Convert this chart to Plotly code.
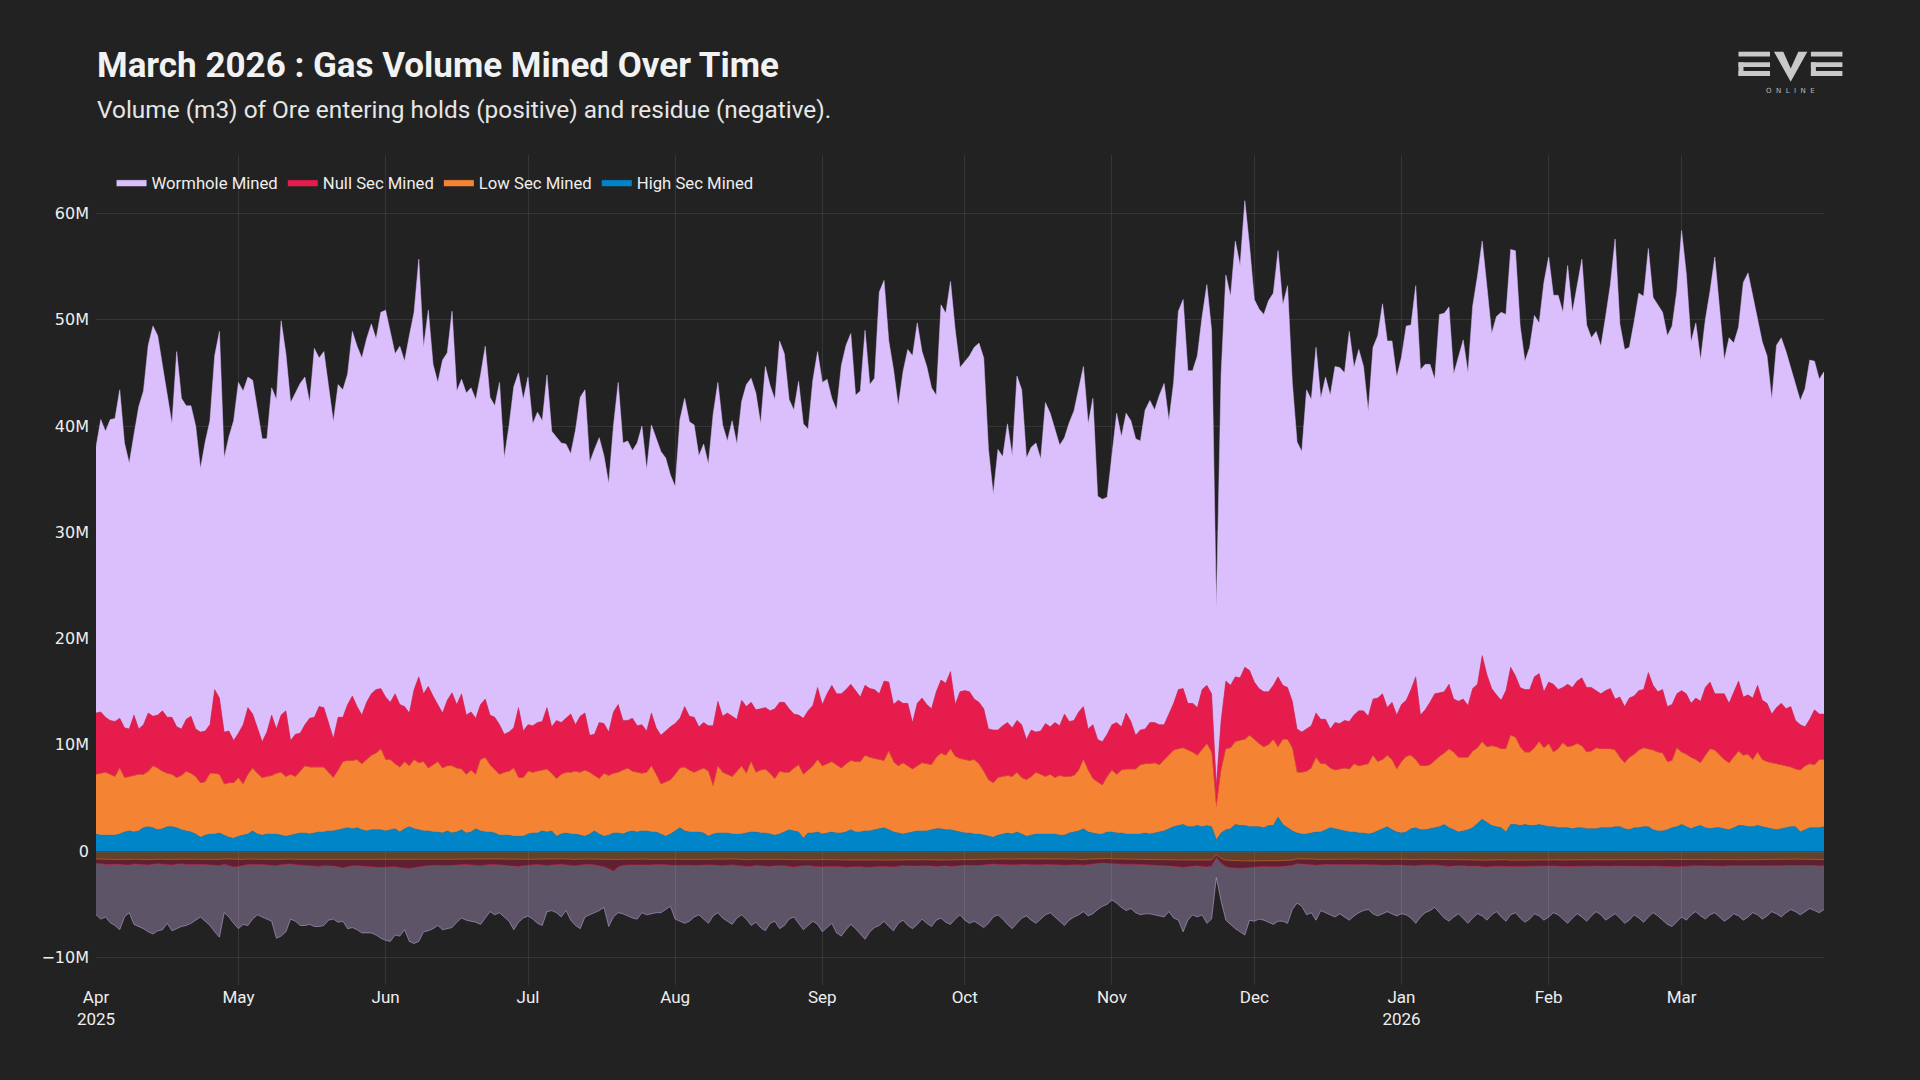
import plotly.graph_objects as go
import pandas as pd

# ---------------- data (millions of m3) ----------------
# top of the whole positive stack (= wormhole top)
top_total = [
    38.0, 40.6, 39.5, 40.6, 40.7, 43.4, 38.4, 36.5, 39.2, 41.8,
    43.3, 47.6, 49.4, 48.5, 45.7, 42.9, 40.2, 47.0, 42.6, 41.9,
    41.9, 40.0, 36.0, 38.5, 40.5, 46.6, 48.9, 37.0, 39.0, 40.5,
    44.1, 43.3, 44.6, 44.3, 41.5, 38.8, 38.8, 43.6, 42.5, 49.9,
    46.8, 42.2, 43.1, 44.0, 44.6, 42.2, 47.3, 46.4, 47.0, 43.5,
    40.4, 43.9, 43.4, 44.9, 48.9, 47.5, 46.4, 48.2, 49.6, 48.2,
    50.7, 50.9, 49.0, 46.8, 47.5, 46.1, 48.5, 50.7, 55.7, 47.4,
    50.9, 45.8, 44.1, 46.2, 46.9, 50.8, 43.3, 44.4, 43.1, 43.6,
    42.5, 44.8, 47.5, 42.7, 41.9, 44.1, 37.0, 40.0, 43.7, 45.0,
    42.5, 44.6, 40.2, 41.3, 40.5, 44.8, 39.5, 38.9, 38.4, 38.3,
    37.4, 39.6, 42.7, 43.4, 36.6, 37.8, 38.9, 37.2, 34.6, 40.0,
    44.1, 38.4, 38.6, 37.7, 38.4, 40.0, 35.9, 40.1, 38.8, 37.6,
    37.0, 35.4, 34.3, 40.6, 42.6, 40.4, 40.1, 37.2, 38.3, 36.4,
    41.1, 44.1, 40.1, 38.6, 40.5, 38.3, 42.3, 43.9, 44.5, 43.1,
    40.2, 45.6, 43.8, 42.5, 48.0, 46.8, 42.5, 41.5, 44.2, 40.2,
    39.7, 44.3, 47.0, 44.1, 44.4, 42.6, 41.5, 45.7, 47.6, 48.7,
    42.9, 43.3, 49.0, 43.9, 44.5, 52.6, 53.7, 48.0, 45.3, 41.9,
    45.1, 47.2, 46.6, 49.7, 47.0, 45.6, 43.6, 42.9, 51.4, 50.6,
    53.6, 49.0, 45.5, 46.0, 46.6, 47.4, 47.8, 46.4, 37.8, 33.6,
    37.8, 37.1, 40.2, 37.2, 44.7, 43.4, 37.0, 38.0, 38.4, 36.9,
    42.2, 41.2, 39.8, 38.2, 38.9, 40.3, 41.4, 43.6, 45.6, 40.2,
    42.6, 33.4, 33.1, 33.3, 37.4, 41.2, 39.0, 41.2, 40.5, 38.8,
    38.6, 41.5, 42.4, 41.5, 42.9, 44.0, 40.5, 44.1, 50.8, 51.9,
    45.2, 45.2, 46.6, 50.3, 53.3, 49.0, 22.9, 44.9, 54.2, 52.2,
    57.4, 55.1, 61.2, 56.9, 51.9, 51.0, 50.5, 51.8, 52.5, 56.5,
    51.4, 53.2, 44.1, 38.5, 37.6, 43.4, 42.5, 47.4, 42.6, 44.6,
    42.9, 45.6, 45.5, 45.0, 48.9, 45.5, 47.2, 45.6, 41.4, 47.4,
    48.5, 51.5, 48.0, 48.0, 44.6, 46.5, 49.4, 49.5, 53.2, 45.3,
    45.8, 45.8, 44.4, 50.5, 50.6, 51.2, 44.9, 46.6, 48.1, 45.0,
    51.3, 54.1, 57.4, 53.1, 48.7, 50.3, 50.7, 50.5, 56.6, 56.5,
    49.4, 46.1, 47.4, 50.4, 49.7, 53.5, 55.9, 52.3, 52.3, 50.7,
    55.1, 50.7, 53.3, 55.7, 49.5, 48.3, 48.9, 47.5, 50.3, 53.3,
    57.6, 49.6, 47.2, 47.4, 49.8, 52.5, 52.2, 56.7, 52.1, 51.4,
    50.7, 48.5, 49.4, 52.7, 58.4, 54.3, 47.9, 49.7, 46.2, 50.0,
    52.7, 55.9, 50.8, 46.2, 48.3, 47.8, 49.3, 53.5, 54.4, 52.3,
    50.0, 47.9, 46.6, 42.5, 47.6, 48.3, 47.0, 45.5, 43.8, 42.4,
    43.5, 46.2, 46.1, 44.4, 45.1,
]

# top of the null-sec band
top_null = [
    13.0, 13.1, 12.6, 12.3, 12.2, 12.5, 11.6, 11.5, 12.8, 11.5,
    11.9, 13.0, 12.7, 12.8, 13.2, 12.6, 12.6, 11.7, 11.5, 12.4,
    12.7, 11.5, 11.2, 11.3, 11.9, 15.2, 14.4, 11.2, 11.3, 10.4,
    11.1, 11.9, 13.5, 12.9, 11.6, 10.3, 11.2, 12.8, 11.5, 12.8,
    13.2, 10.4, 11.0, 11.1, 11.9, 12.5, 12.6, 13.6, 13.5, 12.1,
    10.6, 12.6, 12.6, 13.8, 14.6, 13.6, 12.8, 14.0, 14.8, 15.2,
    15.3, 14.5, 14.0, 14.8, 13.8, 13.6, 13.0, 15.2, 16.4, 14.8,
    15.5, 14.6, 13.8, 13.0, 14.2, 14.9, 13.8, 14.8, 12.8, 13.1,
    12.5, 13.8, 14.3, 12.8, 12.6, 11.9, 11.0, 11.2, 11.6, 13.5,
    11.3, 11.9, 11.8, 12.1, 12.2, 13.5, 11.7, 12.3, 12.1, 12.5,
    12.9, 11.9, 12.7, 13.0, 10.9, 11.0, 12.1, 12.0, 11.2, 13.1,
    13.8, 12.3, 12.3, 12.5, 11.8, 11.9, 11.3, 13.0, 11.6, 10.9,
    11.3, 11.7, 12.0, 12.5, 13.6, 12.7, 12.6, 11.7, 12.1, 11.8,
    11.8, 14.1, 12.7, 13.0, 12.7, 12.4, 14.2, 13.6, 14.0, 13.3,
    13.4, 13.5, 13.2, 13.4, 14.0, 14.0, 13.4, 12.9, 12.8, 12.5,
    13.2, 13.7, 15.4, 13.8, 14.8, 15.6, 14.8, 14.8, 15.2, 15.7,
    15.1, 14.5, 15.6, 15.3, 15.2, 14.8, 16.0, 15.9, 13.8, 14.2,
    13.9, 13.9, 12.1, 13.9, 14.4, 13.8, 13.4, 15.0, 16.1, 15.8,
    16.9, 13.8, 15.0, 15.1, 15.0, 14.3, 14.0, 13.4, 11.5, 11.4,
    11.4, 11.8, 12.1, 11.6, 12.3, 11.9, 10.5, 11.4, 11.2, 11.3,
    12.0, 11.7, 12.1, 11.8, 12.9, 12.2, 12.3, 13.1, 13.6, 11.5,
    11.9, 10.5, 10.3, 11.0, 11.9, 12.1, 11.7, 13.0, 12.2, 10.9,
    11.4, 11.5, 12.1, 12.1, 11.9, 11.9, 12.9, 13.9, 15.2, 15.3,
    13.9, 13.9, 13.5, 15.2, 15.6, 14.8, 6.2, 12.3, 16.0, 15.6,
    16.4, 16.3, 17.3, 17.0, 15.9, 15.3, 15.0, 15.0, 15.6, 16.4,
    15.6, 15.4, 14.1, 11.5, 11.2, 11.5, 11.8, 13.0, 12.4, 12.4,
    11.5, 12.1, 12.0, 12.3, 12.2, 12.8, 13.2, 13.2, 12.7, 14.3,
    14.4, 14.8, 13.5, 14.0, 12.8, 13.8, 14.2, 15.2, 16.4, 12.8,
    13.3, 14.0, 14.8, 14.9, 15.0, 15.7, 14.3, 14.1, 14.3, 13.7,
    15.3, 15.7, 18.4, 16.6, 15.3, 14.7, 14.2, 15.1, 17.3, 16.5,
    15.4, 15.2, 15.2, 16.4, 16.7, 15.0, 15.9, 15.7, 15.2, 15.4,
    15.7, 15.4, 16.0, 16.3, 15.4, 15.4, 15.1, 14.8, 15.1, 15.3,
    14.3, 14.5, 13.6, 14.4, 14.6, 15.1, 15.2, 16.8, 15.6, 15.0,
    15.2, 13.6, 13.8, 14.8, 15.1, 14.8, 13.9, 14.4, 14.1, 15.4,
    15.9, 14.8, 14.8, 14.8, 13.9, 15.0, 16.0, 14.5, 14.7, 14.4,
    15.6, 14.2, 13.9, 12.9, 13.5, 13.9, 13.4, 13.6, 12.3, 11.9,
    11.7, 12.4, 13.3, 12.9, 12.9,
]

# top of the low-sec band
top_low = [
    7.2, 7.3, 7.4, 7.2, 7.0, 7.8, 6.9, 7.0, 7.1, 7.2,
    7.2, 7.5, 8.0, 7.8, 7.5, 7.3, 7.2, 6.9, 7.1, 7.5,
    7.3, 7.0, 6.4, 6.5, 7.3, 7.3, 7.2, 6.3, 6.4, 6.4,
    6.9, 6.3, 7.2, 7.8, 7.3, 6.9, 7.0, 7.1, 7.3, 7.4,
    7.0, 7.2, 7.0, 7.5, 8.0, 7.9, 7.9, 7.9, 7.9, 7.4,
    6.9, 7.6, 8.4, 8.5, 8.5, 8.6, 8.2, 8.6, 9.0, 9.2,
    9.6, 8.6, 8.6, 8.2, 7.9, 8.4, 8.0, 8.6, 8.3, 8.4,
    7.8, 8.1, 8.4, 7.8, 8.0, 8.0, 7.8, 7.7, 7.2, 7.6,
    7.2, 8.6, 8.8, 8.1, 7.6, 7.2, 7.4, 7.5, 7.8, 6.9,
    6.9, 7.5, 7.4, 7.5, 7.6, 7.7, 7.3, 6.8, 7.2, 7.4,
    7.4, 7.5, 7.4, 7.6, 7.4, 7.1, 6.8, 7.3, 7.1, 7.3,
    7.4, 7.6, 7.8, 7.5, 7.4, 7.3, 7.4, 8.0, 7.2, 6.3,
    6.5, 6.7, 7.2, 7.8, 7.9, 7.6, 7.4, 7.6, 7.8, 7.5,
    6.1, 8.0, 7.4, 7.2, 7.0, 7.5, 8.0, 7.3, 8.4, 7.4,
    7.6, 7.7, 7.3, 6.8, 7.5, 7.4, 7.4, 7.8, 8.1, 7.2,
    7.6, 8.0, 8.6, 8.0, 8.2, 8.4, 8.1, 7.8, 8.2, 8.5,
    8.4, 8.4, 9.0, 8.8, 8.7, 8.6, 8.5, 9.4, 8.4, 8.0,
    8.3, 8.0, 7.7, 8.0, 8.3, 8.2, 8.1, 8.8, 9.2, 9.0,
    9.6, 8.9, 8.7, 8.6, 8.5, 8.6, 8.2, 7.5, 6.7, 6.4,
    6.9, 7.0, 7.1, 7.0, 7.4, 6.9, 6.7, 7.0, 7.4, 7.2,
    7.0, 7.2, 6.9, 7.1, 7.0, 7.0, 7.1, 7.6, 8.6, 7.6,
    6.8, 6.5, 6.2, 7.0, 7.6, 7.2, 7.6, 7.7, 7.7, 7.7,
    8.1, 8.2, 8.2, 8.3, 8.1, 8.6, 9.0, 9.5, 9.6, 9.7,
    9.5, 9.3, 9.0, 9.5, 10.1, 9.3, 4.1, 7.6, 9.6, 9.7,
    10.3, 10.4, 10.5, 10.9, 10.5, 10.1, 9.8, 10.0, 10.5, 9.8,
    10.5, 10.5, 9.7, 7.4, 7.4, 7.5, 7.8, 8.8, 8.2, 8.2,
    7.8, 7.6, 7.7, 7.8, 7.7, 8.2, 8.0, 8.1, 8.2, 9.0,
    8.4, 8.6, 9.0, 8.6, 7.7, 8.4, 8.9, 9.0, 8.6, 8.0,
    8.0, 8.1, 8.5, 8.9, 9.2, 9.6, 9.3, 8.8, 8.8, 8.8,
    9.4, 9.7, 10.3, 9.8, 9.9, 9.8, 9.6, 9.6, 10.9, 10.7,
    9.8, 9.3, 9.3, 9.7, 10.3, 9.7, 10.1, 9.3, 9.6, 10.2,
    9.8, 9.9, 10.1, 9.9, 9.3, 9.4, 9.7, 9.6, 9.6, 9.6,
    9.5, 8.8, 8.3, 8.8, 9.1, 9.5, 9.7, 9.6, 9.5, 9.3,
    9.2, 8.4, 8.5, 9.7, 9.3, 9.1, 8.8, 8.6, 8.3, 9.0,
    9.6, 9.5, 9.0, 8.6, 8.3, 8.8, 9.4, 9.0, 9.1, 8.6,
    9.3, 8.6, 8.4, 8.3, 8.2, 8.1, 8.0, 7.9, 7.7, 7.6,
    8.0, 8.2, 8.1, 8.6, 8.6,
]

# high-sec band (bottom of the positive stack)
high_sec = [
    1.6, 1.5, 1.5, 1.5, 1.5, 1.6, 1.8, 1.9, 1.8, 1.9,
    2.2, 2.3, 2.2, 2.0, 2.1, 2.3, 2.3, 2.2, 2.0, 1.9,
    1.8, 1.6, 1.3, 1.5, 1.6, 1.6, 1.7, 1.5, 1.3, 1.2,
    1.4, 1.5, 1.6, 1.9, 1.6, 1.5, 1.6, 1.6, 1.6, 1.5,
    1.4, 1.5, 1.6, 1.7, 1.7, 1.6, 1.7, 1.8, 1.8, 1.9,
    1.9, 2.0, 2.1, 2.2, 2.1, 2.2, 2.0, 1.9, 2.0, 2.0,
    2.0, 1.9, 2.0, 2.1, 1.8, 2.1, 2.3, 2.1, 2.0, 1.9,
    1.9, 1.8, 1.8, 1.7, 1.9, 1.7, 1.8, 2.0, 1.7, 1.8,
    2.1, 1.9, 1.8, 1.8, 1.7, 1.5, 1.5, 1.5, 1.4, 1.4,
    1.4, 1.6, 1.7, 1.7, 1.9, 1.8, 1.9, 1.4, 1.6, 1.7,
    1.6, 1.6, 1.5, 1.4, 1.6, 1.9, 1.6, 1.4, 1.5, 1.7,
    1.7, 1.6, 1.8, 1.9, 1.8, 1.9, 1.9, 1.8, 1.8, 1.6,
    1.4, 1.6, 1.9, 2.2, 1.9, 1.8, 1.8, 1.8, 1.7, 1.4,
    1.6, 1.7, 1.7, 1.7, 1.6, 1.6, 1.6, 1.7, 1.8, 1.8,
    1.7, 1.7, 1.6, 1.5, 1.6, 1.8, 2.0, 1.9, 1.8, 1.2,
    1.7, 1.7, 1.8, 1.6, 1.7, 1.8, 1.7, 1.7, 1.8, 2.0,
    1.8, 1.8, 1.9, 1.9, 2.0, 2.1, 2.2, 2.0, 1.8, 1.7,
    1.6, 1.7, 1.8, 1.9, 1.9, 1.9, 2.0, 2.1, 2.1, 2.0,
    2.0, 1.9, 1.8, 1.7, 1.7, 1.6, 1.6, 1.5, 1.4, 1.3,
    1.5, 1.6, 1.7, 1.6, 1.8, 1.6, 1.4, 1.5, 1.6, 1.6,
    1.6, 1.6, 1.6, 1.5, 1.5, 1.7, 1.8, 1.9, 2.1, 1.8,
    1.7, 1.6, 1.6, 1.8, 1.8, 1.7, 1.7, 1.6, 1.6, 1.6,
    1.6, 1.7, 1.6, 1.7, 1.8, 1.9, 2.1, 2.3, 2.4, 2.5,
    2.3, 2.3, 2.4, 2.3, 2.4, 2.3, 1.07, 1.7, 2.0, 2.1,
    2.5, 2.4, 2.4, 2.3, 2.3, 2.3, 2.2, 2.4, 2.4, 3.2,
    2.5, 2.2, 1.9, 1.7, 1.6, 1.6, 1.7, 1.8, 1.8, 2.0,
    2.2, 2.1, 2.0, 1.9, 1.8, 1.8, 1.7, 1.7, 1.6, 1.7,
    1.9, 2.1, 2.3, 2.0, 1.8, 1.7, 1.8, 2.1, 2.2, 2.0,
    2.0, 2.1, 2.2, 2.3, 2.5, 2.2, 2.0, 1.8, 1.9, 2.0,
    2.2, 2.6, 3.0, 2.7, 2.4, 2.3, 2.2, 1.8, 2.5, 2.5,
    2.4, 2.5, 2.4, 2.4, 2.5, 2.4, 2.3, 2.3, 2.2, 2.2,
    2.2, 2.1, 2.2, 2.2, 2.1, 2.1, 2.1, 2.2, 2.2, 2.2,
    2.3, 2.3, 2.1, 2.0, 2.2, 2.2, 2.3, 2.3, 2.0, 1.9,
    1.9, 2.0, 2.2, 2.3, 2.5, 2.3, 2.1, 2.3, 2.4, 2.2,
    2.1, 2.2, 2.2, 2.1, 2.0, 2.2, 2.4, 2.4, 2.3, 2.3,
    2.4, 2.3, 2.2, 2.1, 2.0, 2.1, 2.2, 2.3, 2.3, 1.8,
    2.0, 2.2, 2.2, 2.2, 2.3,
]

# depth of the whole negative (residue) stack
bottom_total = [
    6.0, 6.4, 6.2, 6.75, 7.0, 7.4, 6.2, 5.8, 6.9, 7.1,
    7.3, 7.6, 7.8, 7.5, 7.4, 6.8, 7.5, 7.3, 7.1, 7.0,
    6.8, 6.5, 6.2, 6.6, 7.0, 7.6, 8.1, 5.8, 6.2, 6.8,
    7.3, 6.9, 7.0, 6.4, 6.0, 6.2, 6.4, 6.6, 8.2, 8.0,
    7.6, 6.4, 6.6, 7.0, 7.0, 6.9, 7.1, 7.1, 7.0, 6.5,
    6.4, 6.7, 6.6, 7.3, 7.2, 7.4, 7.7, 7.7, 7.7, 7.9,
    8.2, 8.4, 8.5, 7.9, 8.0, 7.4, 8.5, 8.7, 8.5, 7.6,
    7.5, 7.3, 7.0, 7.4, 7.3, 7.2, 6.7, 6.3, 6.5, 6.6,
    6.7, 6.9, 6.3, 5.7, 6.0, 5.8, 6.2, 6.6, 7.4, 6.7,
    6.3, 6.1, 6.4, 6.8, 7.0, 5.7, 5.6, 5.8, 6.2, 5.6,
    6.5, 7.0, 7.3, 6.2, 6.0, 5.8, 5.6, 5.3, 7.1, 6.2,
    5.8, 5.9, 6.1, 6.3, 6.4, 5.8, 6.0, 5.9, 5.8, 5.8,
    5.5, 5.2, 6.4, 6.6, 6.8, 6.6, 6.2, 6.0, 6.4, 6.8,
    6.1, 5.8, 6.3, 6.6, 6.9, 6.3, 6.0, 6.4, 7.0, 6.7,
    7.2, 7.5, 6.8, 6.6, 7.3, 7.0, 6.4, 6.2, 6.8, 7.4,
    7.0, 6.6, 6.9, 7.6, 7.2, 6.8, 7.7, 8.0, 7.4, 6.9,
    7.3, 7.8, 8.3, 7.6, 7.2, 7.0, 6.6, 7.1, 7.5, 6.8,
    6.5, 7.0, 7.3, 6.9, 6.4, 6.8, 7.1, 6.5, 6.3, 6.7,
    6.9, 6.4, 6.0, 6.5, 6.8, 6.6, 6.9, 7.2, 6.8, 6.2,
    6.0, 6.4, 6.9, 7.3, 6.8, 6.3, 6.1, 6.5, 6.8, 6.4,
    6.0, 5.8, 6.2, 6.6, 7.0, 6.5, 6.2, 6.0, 5.7, 6.1,
    5.9, 5.5, 5.2, 5.0, 4.6, 4.9, 5.3, 5.6, 5.4, 5.8,
    6.0, 5.9, 5.9, 6.0, 6.1, 6.2, 5.7, 6.3, 6.5, 7.6,
    6.5, 6.0, 6.2, 6.0, 6.8, 6.4, 2.5, 4.7, 6.5, 6.9,
    7.3, 7.6, 7.9, 6.5, 6.6, 6.4, 6.5, 6.7, 6.9, 6.6,
    6.6, 6.8, 5.5, 4.9, 5.2, 6.0, 5.8, 6.5, 5.6, 5.8,
    6.0, 6.2, 5.9, 6.2, 6.5, 6.1, 5.8, 5.6, 5.5, 5.9,
    6.1, 5.9, 5.7, 5.9, 6.1, 5.9, 6.0, 6.3, 6.8, 6.2,
    5.8, 5.6, 5.3, 5.8, 6.3, 6.6, 6.2, 5.9, 6.4, 6.8,
    6.3, 5.9, 6.1, 6.5, 6.0, 5.7, 6.2, 6.6, 6.0, 5.8,
    6.3, 6.7, 6.4, 5.9, 6.1, 6.5, 6.2, 5.8, 6.0, 6.4,
    6.8, 6.3, 5.9, 6.2, 6.6, 6.1, 5.7, 6.0, 6.5, 6.2,
    5.9, 6.3, 6.8, 6.5, 6.0, 6.3, 6.7, 6.2, 5.8, 6.1,
    6.5, 6.9, 7.1, 6.6, 6.2, 6.5, 6.0, 5.7, 6.1, 6.4,
    6.0, 5.8, 6.2, 6.6, 6.3, 5.9, 6.1, 6.5, 6.2, 5.8,
    6.0, 6.4, 6.1, 5.7, 5.9, 6.2, 5.8, 5.5, 5.7, 6.0,
    5.7, 5.4, 5.6, 5.8, 5.5,
]

high_res = [
    .08, .08, .09, .08, .07, .08, .08, .09, .08, .08,
    .09, .08, .08, .07, .08, .08, .09, .08, .08, .08,
    .07, .08, .08, .09, .08, .08, .09, .08, .08, .09,
    .08, .08, .07, .08, .08, .09, .08, .08, .08, .07,
    .08, .08, .09, .08, .08, .08, .09, .09, .08, .08,
    .08, .09, .09, .08, .08, .09, .08, .08, .09, .09,
    .09, .08, .08, .09, .09, .08, .09, .09, .08, .08,
    .08, .08, .09, .08, .08, .08, .07, .08, .08, .08,
    .08, .08, .08, .07, .08, .08, .08, .08, .09, .08,
    .08, .08, .07, .08, .08, .08, .08, .08, .07, .08,
    .08, .08, .08, .07, .08, .08, .08, .09, .09, .10,
    .09, .08, .08, .08, .08, .08, .08, .08, .08, .07,
    .07, .08, .08, .08, .08, .08, .08, .08, .08, .08,
    .08, .08, .08, .08, .08, .08, .09, .08, .09, .08,
    .08, .09, .08, .08, .08, .08, .09, .09, .08, .08,
    .08, .09, .09, .08, .09, .09, .09, .09, .09, .09,
    .09, .09, .09, .09, .09, .09, .09, .09, .08, .08,
    .08, .08, .08, .08, .09, .09, .08, .09, .09, .09,
    .09, .09, .08, .08, .08, .08, .08, .08, .07, .07,
    .07, .08, .08, .08, .08, .07, .07, .08, .08, .08,
    .08, .08, .08, .08, .08, .08, .08, .08, .09, .08,
    .07, .07, .07, .07, .07, .08, .08, .08, .08, .08,
    .08, .08, .08, .09, .09, .09, .09, .09, .10, .10,
    .09, .09, .09, .09, .10, .09, .05, .07, .09, .10,
    .10, .10, .10, .10, .10, .10, .09, .10, .10, .10,
    .10, .09, .09, .08, .08, .08, .08, .08, .08, .08,
    .08, .08, .08, .08, .08, .08, .08, .08, .08, .08,
    .08, .09, .09, .08, .08, .08, .09, .09, .09, .08,
    .08, .08, .09, .09, .09, .09, .09, .09, .09, .09,
    .09, .09, .10, .09, .09, .09, .09, .09, .10, .10,
    .09, .09, .09, .09, .09, .09, .09, .09, .09, .09,
    .09, .09, .09, .09, .09, .09, .09, .09, .09, .09,
    .09, .09, .08, .09, .09, .09, .09, .09, .09, .09,
    .09, .08, .08, .09, .09, .09, .09, .09, .09, .09,
    .09, .09, .09, .09, .08, .09, .09, .09, .09, .09,
    .09, .09, .09, .08, .08, .08, .08, .08, .08, .08,
    .08, .08, .08, .09, .09,
]

low_res = [
    .66, .68, .70, .67, .69, .72, .70, .68, .66, .69,
    .71, .70, .68, .67, .69, .70, .72, .70, .68, .69,
    .67, .66, .68, .70, .71, .69, .70, .66, .68, .70,
    .72, .70, .68, .69, .67, .66, .68, .70, .71, .69,
    .68, .67, .69, .70, .72, .71, .70, .69, .70, .72,
    .70, .71, .73, .72, .70, .71, .72, .74, .73, .72,
    .74, .73, .72, .71, .73, .72, .74, .75, .73, .72,
    .71, .70, .72, .71, .70, .69, .70, .68, .67, .69,
    .70, .71, .69, .68, .67, .66, .68, .69, .70, .68,
    .67, .69, .70, .68, .69, .71, .68, .67, .66, .68,
    .69, .70, .68, .67, .66, .68, .69, .70, .72, .74,
    .70, .69, .68, .70, .71, .69, .68, .70, .69, .67,
    .66, .68, .69, .70, .71, .69, .68, .67, .69, .70,
    .68, .70, .69, .68, .67, .69, .71, .70, .72, .70,
    .69, .71, .70, .68, .69, .70, .71, .72, .70, .69,
    .70, .72, .73, .71, .72, .74, .73, .72, .74, .75,
    .74, .73, .75, .74, .73, .74, .76, .75, .73, .72,
    .71, .72, .70, .71, .72, .73, .72, .74, .75, .74,
    .76, .73, .72, .71, .70, .71, .70, .69, .66, .64,
    .66, .67, .68, .67, .68, .66, .65, .67, .68, .67,
    .66, .67, .66, .67, .68, .67, .68, .70, .72, .68,
    .66, .64, .62, .64, .66, .67, .68, .69, .68, .69,
    .70, .71, .70, .72, .71, .73, .74, .76, .77, .78,
    .76, .75, .74, .76, .78, .75, .30, .62, .76, .78,
    .80, .81, .82, .83, .81, .80, .79, .80, .81, .79,
    .80, .79, .76, .66, .65, .66, .67, .70, .69, .68,
    .67, .66, .67, .68, .67, .69, .68, .69, .70, .72,
    .70, .71, .72, .70, .68, .70, .71, .72, .71, .69,
    .69, .70, .71, .72, .73, .74, .73, .72, .71, .72,
    .73, .74, .76, .75, .74, .74, .73, .72, .76, .75,
    .74, .73, .73, .74, .75, .74, .75, .73, .74, .75,
    .74, .74, .75, .75, .73, .73, .74, .74, .74, .74,
    .73, .72, .70, .71, .72, .73, .74, .74, .73, .73,
    .72, .70, .71, .73, .73, .72, .71, .71, .70, .72,
    .73, .73, .72, .71, .70, .71, .73, .72, .72, .71,
    .72, .71, .70, .70, .70, .69, .69, .69, .68, .68,
    .69, .70, .70, .71, .71,
]

null_res = [
    .45, .42, .48, .50, .46, .44, .52, .55, .48, .46,
    .50, .53, .48, .45, .47, .52, .50, .46, .44, .48,
    .51, .49, .46, .48, .52, .55, .58, .50, .62, .70,
    .66, .58, .52, .49, .47, .50, .54, .56, .60, .52,
    .48, .46, .50, .53, .55, .58, .62, .66, .60, .56,
    .62, .70, .78, .68, .60, .58, .62, .66, .64, .68,
    .72, .70, .66, .68, .74, .78, .80, .72, .66, .62,
    .58, .55, .52, .56, .60, .58, .55, .52, .50, .53,
    .56, .58, .55, .50, .52, .54, .58, .62, .66, .70,
    .62, .56, .52, .50, .54, .58, .55, .52, .50, .54,
    .58, .62, .56, .52, .50, .54, .60, .68, .85, 1.05,
    .70, .58, .54, .52, .56, .58, .54, .52, .50, .52,
    .55, .58, .56, .54, .52, .56, .60, .58, .54, .52,
    .56, .60, .62, .58, .55, .58, .62, .66, .62, .58,
    .60, .64, .68, .62, .58, .60, .66, .70, .64, .60,
    .58, .62, .66, .70, .64, .60, .62, .66, .70, .66,
    .62, .64, .68, .72, .66, .62, .60, .64, .68, .62,
    .58, .60, .64, .62, .58, .56, .60, .62, .58, .56,
    .60, .62, .58, .55, .54, .56, .58, .55, .52, .50,
    .52, .54, .56, .55, .52, .50, .52, .54, .56, .54,
    .52, .50, .53, .55, .58, .55, .52, .50, .52, .50,
    .48, .46, .44, .45, .42, .44, .46, .48, .47, .50,
    .52, .50, .52, .54, .56, .55, .54, .58, .62, .66,
    .62, .58, .56, .60, .62, .58, .25, .45, .62, .68,
    .72, .70, .68, .62, .60, .58, .56, .58, .60, .58,
    .56, .55, .50, .45, .48, .52, .54, .56, .52, .50,
    .52, .54, .52, .50, .52, .54, .52, .50, .48, .50,
    .52, .54, .52, .50, .52, .54, .56, .58, .60, .56,
    .54, .52, .50, .54, .58, .62, .58, .55, .58, .62,
    .60, .58, .62, .66, .62, .58, .60, .64, .60, .58,
    .60, .62, .60, .58, .60, .62, .60, .58, .60, .62,
    .64, .62, .58, .60, .62, .60, .58, .60, .62, .60,
    .58, .60, .64, .62, .58, .60, .62, .60, .58, .60,
    .64, .68, .70, .66, .62, .64, .60, .58, .60, .62,
    .60, .58, .60, .62, .60, .58, .60, .62, .60, .58,
    .60, .62, .60, .58, .60, .62, .58, .56, .58, .60,
    .58, .56, .58, .60, .58,
]

series_names = ["High Sec Mined", "Low Sec Mined", "Null Sec Mined", "Wormhole Mined"]
colors = ["#0085c9", "#f48433", "#e61c4d", "#dbbffc"]
rgb = [(0, 133, 201), (244, 132, 51), (230, 28, 77), (219, 191, 252)]

month_ticks = ["2025-04-01", "2025-05-01", "2025-06-01", "2025-07-01", "2025-08-01",
               "2025-09-01", "2025-10-01", "2025-11-01", "2025-12-01", "2026-01-01",
               "2026-02-01", "2026-03-01"]
month_labels = ["Apr<br>2025", "May", "Jun", "Jul", "Aug", "Sep", "Oct", "Nov", "Dec",
                "Jan<br>2026", "Feb", "Mar"]

arrays = [top_total, top_null, top_low, high_sec, bottom_total, high_res, low_res, null_res]
n = len(top_total)
for a in arrays:
    assert len(a) == n, f"length mismatch {len(a)} vs {n}"

dates = pd.date_range("2025-04-01", periods=n, freq="D")
M = 1e6

# per-band values (bands read as stacked boundaries)
high_vals = [h * M for h in high_sec]
low_vals = [(l - h) * M for l, h in zip(top_low, high_sec)]
null_vals = [(nn - l) * M for nn, l in zip(top_null, top_low)]
worm_vals = [(t - nn) * M for t, nn in zip(top_total, top_null)]

high_res_vals = [-v * M for v in high_res]
low_res_vals = [-v * M for v in low_res]
null_res_vals = [-v * M for v in null_res]
worm_res_vals = [-(b - h - l - nr) * M for b, h, l, nr in zip(bottom_total, high_res, low_res, null_res)]

fig = go.Figure()

pos = [high_vals, low_vals, null_vals, worm_vals]
ranks = [4, 3, 2, 1]
for vals, name, c, r in zip(pos, series_names, colors, ranks):
    fig.add_trace(go.Scatter(
        x=dates, y=vals, name=name, mode="lines", stackgroup="pos",
        line=dict(width=0.5, color=c), fillcolor=c, legendrank=r,
    ))

neg = [high_res_vals, low_res_vals, null_res_vals, worm_res_vals]
for vals, name, (r_, g_, b_) in zip(neg, series_names, rgb):
    fig.add_trace(go.Scatter(
        x=dates, y=vals, name=name.replace("Mined", "Residue"), mode="lines",
        stackgroup="neg", showlegend=False,
        line=dict(width=1, color=f"rgba({r_},{g_},{b_},0.45)"),
        fillcolor=f"rgba({r_},{g_},{b_},0.32)",
    ))

# ---------------- layout ----------------
BG = "#222222"
L, R, T, B = 96, 96, 155, 95
W, H = 1920, 1080
PW, PH = W - L - R, H - T - B


def px(x):
    return (x - L) / PW


def py(y):
    return (H - B - y) / PH


txtfont = "Roboto, sans-serif"

annotations = [
    dict(text="<b>March 2026 : Gas Volume Mined Over Time</b>", x=px(95), y=py(66),
         xref="paper", yref="paper", xanchor="left", yanchor="middle", showarrow=False,
         font=dict(family=txtfont, size=35, color="#f2f2f2")),
    dict(text="Volume (m3) of Ore entering holds (positive) and residue (negative).",
         x=px(95), y=py(109), xref="paper", yref="paper", xanchor="left", yanchor="middle",
         showarrow=False, font=dict(family=txtfont, size=24.4, color="#e6e6e6")),
    dict(text="O  N  L  I  N  E", x=px(1790), y=py(91), xref="paper", yref="paper",
         xanchor="center", yanchor="middle", showarrow=False,
         font=dict(family="DejaVu Sans", size=7, color="#b8b8b8")),
]

logo_col = "#c9c9c9"
shapes = []


def rect(x0, y0, x1, y1):
    shapes.append(dict(type="rect", xref="paper", yref="paper", x0=px(x0), x1=px(x1),
                       y0=py(y1), y1=py(y0), fillcolor=logo_col, line=dict(width=0), layer="above"))


for dx in (0, 72.4):
    rect(1738.5 + dx, 51.7, 1770 + dx, 56.5)
    rect(1738.5 + dx, 62.3, 1770 + dx, 67.0)
    rect(1738.5 + dx, 71.0, 1770 + dx, 76.0)
    rect(1738.5 + dx, 62.3, 1743.5 + dx, 76.0)

vpts = [(1774, 51.7), (1783.3, 51.7), (1790.7, 68.5), (1798.3, 51.7), (1807.3, 51.7), (1790.7, 81.7)]
path = "M " + " L ".join(f"{px(a):.5f},{py(b):.5f}" for a, b in vpts) + " Z"
shapes.append(dict(type="path", xref="paper", yref="paper", path=path, fillcolor=logo_col,
                   line=dict(width=0), layer="above"))

fig.update_layout(
    width=W, height=H,
    paper_bgcolor=BG, plot_bgcolor=BG,
    margin=dict(l=L, r=R, t=T, b=B, autoexpand=False),
    showlegend=True,
    legend=dict(orientation="h", x=0.009, y=0.988, xanchor="left", yanchor="top",
                traceorder="normal",
                bgcolor="rgba(0,0,0,0)", font=dict(family=txtfont, size=16.7, color="#eeeeee"),
                itemwidth=30, tracegroupgap=0),
    annotations=annotations,
    shapes=shapes,
    hovermode="x unified",
)

fig.update_xaxes(
    range=[dates[0], dates[-1]], tickmode="array", tickvals=month_ticks, ticktext=month_labels,
    showgrid=True, gridcolor="rgba(255,255,255,0.09)", gridwidth=1, zeroline=False, showline=False,
    tickfont=dict(family=txtfont, size=17, color="#eeeeee"), ticks="",
)
fig.update_yaxes(
    range=[-12.6e6, 65.5e6], dtick=10e6, tickformat="~s", showgrid=True,
    gridcolor="rgba(255,255,255,0.09)", gridwidth=1, zeroline=False, showline=False,
    tickfont=dict(family="DejaVu Sans", size=16, color="#eeeeee"), ticks="",
    ticklabelstandoff=6,
)

fig.write_html("out.html")
